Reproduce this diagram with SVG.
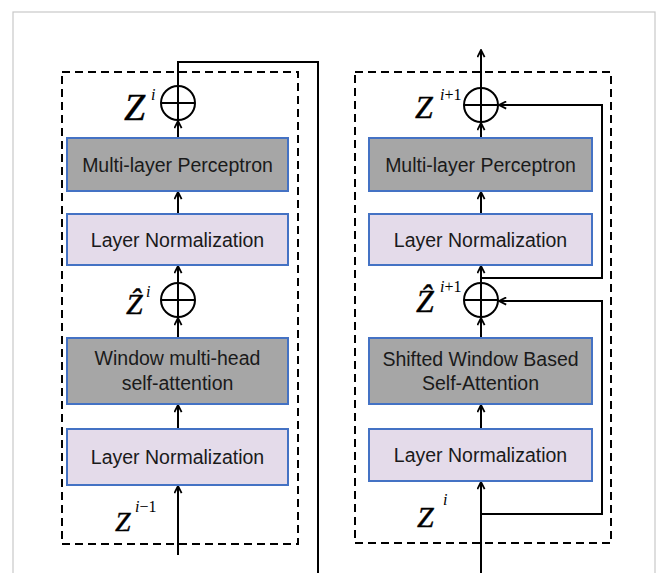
<svg xmlns="http://www.w3.org/2000/svg" width="656" height="573" viewBox="0 0 656 573">
<style>
.frame{fill:#fff;stroke:#c8c8c8;stroke-width:1.2}
.dash{fill:none;stroke:#000;stroke-width:2;stroke-dasharray:8 5}
.gray{fill:#a6a6a6;stroke:#4472c4;stroke-width:2}
.lav{fill:#e4dbea;stroke:#4472c4;stroke-width:2}
.t{font-family:"Liberation Sans",Arial,sans-serif;font-size:19.5px;fill:#1a1a1a;text-anchor:middle}
.z{font-family:"Liberation Serif","Times New Roman",serif;font-style:italic;fill:#000;stroke:#000;stroke-width:0.4}
.sup{font-family:"Liberation Serif","Times New Roman",serif;font-size:16px;fill:#000}
.ln{fill:none;stroke:#000;stroke-width:2}
.sum{fill:#fff;stroke:#000;stroke-width:2}
</style>
<defs>
<marker id="ah" viewBox="0 0 10 10" refX="9" refY="5" markerWidth="9" markerHeight="9" markerUnits="userSpaceOnUse" orient="auto">
<path d="M1,1 L9,5 L1,9" fill="none" stroke="#000" stroke-width="2"/>
</marker>
</defs>
<rect class="frame" x="13" y="12" width="642" height="600"/>
<rect class="dash" x="62" y="72" width="236" height="472"/>
<rect class="dash" x="355" y="72" width="256" height="471"/>

<g id="connectors">
<line class="ln" x1="178" y1="555" x2="178" y2="486" marker-end="url(#ah)"/>
<line class="ln" x1="178" y1="429" x2="178" y2="405" marker-end="url(#ah)"/>
<line class="ln" x1="178" y1="338" x2="178" y2="318" marker-end="url(#ah)"/>
<line class="ln" x1="178" y1="283" x2="178" y2="266" marker-end="url(#ah)"/>
<line class="ln" x1="178" y1="214" x2="178" y2="192" marker-end="url(#ah)"/>
<line class="ln" x1="178" y1="138" x2="178" y2="121" marker-end="url(#ah)"/>
<polyline class="ln" points="178,86 178,62 318,62 318,580"/>
<line class="ln" x1="481" y1="580" x2="481" y2="482" marker-end="url(#ah)"/>
<polyline class="ln" points="481,514 602,514 602,301 499,301" marker-end="url(#ah)"/>
<line class="ln" x1="481" y1="429" x2="481" y2="405" marker-end="url(#ah)"/>
<line class="ln" x1="481" y1="338" x2="481" y2="318" marker-end="url(#ah)"/>
<line class="ln" x1="481" y1="283" x2="481" y2="266" marker-end="url(#ah)"/>
<polyline class="ln" points="481,278 602,278 602,105 499,105" marker-end="url(#ah)"/>
<line class="ln" x1="481" y1="214" x2="481" y2="192" marker-end="url(#ah)"/>
<line class="ln" x1="481" y1="138" x2="481" y2="123" marker-end="url(#ah)"/>
<line class="ln" x1="481" y1="88" x2="481" y2="50" marker-end="url(#ah)"/>
</g>

<g id="left-mlp"><rect class="gray" x="67" y="138" width="221" height="53"/><text class="t" x="177.5" y="171.5">Multi-layer Perceptron</text></g>
<g id="left-ln2"><rect class="lav" x="67" y="214" width="221" height="51"/><text class="t" x="177.5" y="246.5">Layer Normalization</text></g>
<g id="left-wmsa"><rect class="gray" x="67" y="338" width="221" height="66"/><text class="t" x="177.5" y="365">Window multi-head</text><text class="t" x="177.5" y="390">self-attention</text></g>
<g id="left-ln1"><rect class="lav" x="67" y="429" width="221" height="56"/><text class="t" x="177.5" y="464">Layer Normalization</text></g>

<g id="right-mlp"><rect class="gray" x="369" y="138" width="223" height="53"/><text class="t" x="480.5" y="171.5">Multi-layer Perceptron</text></g>
<g id="right-ln2"><rect class="lav" x="369" y="214" width="223" height="51"/><text class="t" x="480.5" y="246.5">Layer Normalization</text></g>
<g id="right-swsa"><rect class="gray" x="369" y="338" width="223" height="66"/><text class="t" x="480.5" y="366">Shifted Window Based</text><text class="t" x="480.5" y="390">Self-Attention</text></g>
<g id="right-ln1"><rect class="lav" x="369" y="429" width="223" height="52"/><text class="t" x="480.5" y="462">Layer Normalization</text></g>

<g id="left-sum2"><circle class="sum" cx="178" cy="103" r="17"/><path class="ln" d="M161,103 H195 M178,86 V120"/></g>
<g id="left-sum1"><circle class="sum" cx="178" cy="300" r="17"/><path class="ln" d="M161,300 H195 M178,283 V317"/></g>
<g id="right-sum2"><circle class="sum" cx="481" cy="105" r="17"/><path class="ln" d="M464,105 H498 M481,88 V122"/></g>
<g id="right-sum1"><circle class="sum" cx="481" cy="300" r="17"/><path class="ln" d="M464,300 H498 M481,283 V317"/></g>

<g id="labels">
<text class="z" x="124" y="120" font-size="38">Z</text><text class="sup" x="151" y="100" font-style="italic">i</text>
<text class="z" x="126" y="314" font-size="30">Ẑ</text><text class="sup" x="146" y="297" font-style="italic">i</text>
<text class="z" x="115" y="531" font-size="28">Z</text><text class="sup" x="135" y="512"><tspan font-style="italic">i</tspan>−1</text>
<text class="z" x="415" y="118" font-size="32">Z</text><text class="sup" x="440" y="100"><tspan font-style="italic">i</tspan>+1</text>
<text class="z" x="416" y="312" font-size="32">Ẑ</text><text class="sup" x="440" y="292"><tspan font-style="italic">i</tspan>+1</text>
<text class="z" x="417" y="527" font-size="30">Z</text><text class="sup" x="443" y="505" font-style="italic">i</text>
</g>
</svg>
